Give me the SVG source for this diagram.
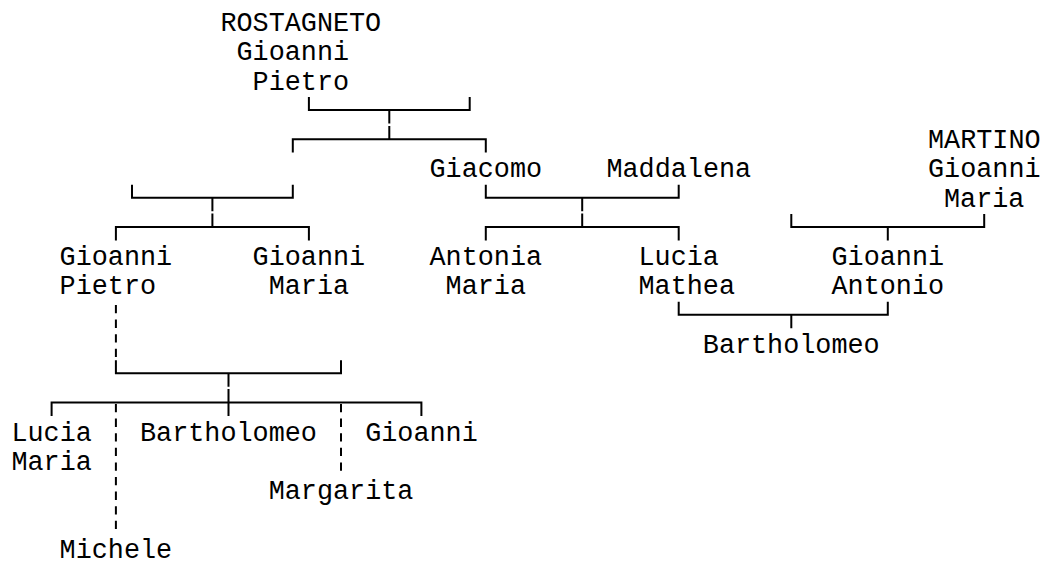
<svg xmlns="http://www.w3.org/2000/svg" width="1042" height="562" viewBox="0 0 1042 562">
  <style>
    .t { font-family: "Liberation Mono", "DejaVu Sans Mono", monospace; font-size: 26.8px; fill: #000; }
    .c { fill: none; stroke: #000; stroke-width: 2; stroke-linecap: butt; stroke-linejoin: miter; }
    .d { fill: none; stroke: #000; stroke-width: 2; stroke-dasharray: 8.3 6.3; }
  </style>
  <rect width="1042" height="562" fill="#fff"/>

  <g id="connectors">
    <path class="c" d="M308.9,97 V110 H469.7 V97 M389.3,110 V123.5"/>
    <path class="c" d="M292.8,152.5 V139.3 H485.8 V152.5 M389.3,139.3 V126"/>
    <path class="c" d="M132,184.8 V197.8 H292.8 V184.8 M212.4,197.8 V211.3"/>
    <path class="c" d="M115.9,240.5 V227 H308.9 V240.5 M212.4,227 V213.5"/>
    <path class="c" d="M485.8,184.8 V197.8 H678.7 V184.8 M582.2,197.8 V211.3"/>
    <path class="c" d="M485.8,240.5 V227 H678.7 V240.5 M582.2,227 V213.5"/>
    <path class="c" d="M791.3,214 V227 H984.2 V214 M887.8,227 V240.5"/>
    <path class="c" d="M678.7,301.8 V314.8 H887.8 V301.8 M791.3,314.8 V328.3"/>
    <path class="c" d="M115.9,360.3 V373.3 H341 V360.3 M228.5,373.3 V386.8"/>
    <path class="c" d="M51.6,416 V402.6 H421.4 V416 M228.5,389 V416"/>
    <path class="d" d="M115.9,305 V358"/>
    <path class="d" d="M115.9,404 V533"/>
    <path class="d" d="M341,404 V473"/>
  </g>

  <g id="rostagneto-gioanni-pietro">
    <text class="t" x="220.4" y="31">ROSTAGNETO</text>
    <text class="t" x="236.5" y="60.25">Gioanni</text>
    <text class="t" x="252.6" y="89.5">Pietro</text>
  </g>
  <g id="martino-gioanni-maria">
    <text class="t" x="928" y="148">MARTINO</text>
    <text class="t" x="928" y="177.25">Gioanni</text>
    <text class="t" x="944" y="206.5">Maria</text>
  </g>
  <g id="giacomo">
    <text class="t" x="429.5" y="177.25">Giacomo</text>
  </g>
  <g id="maddalena">
    <text class="t" x="606.4" y="177.25">Maddalena</text>
  </g>
  <g id="gioanni-pietro">
    <text class="t" x="59.6" y="265">Gioanni</text>
    <text class="t" x="59.6" y="294.25">Pietro</text>
  </g>
  <g id="gioanni-maria">
    <text class="t" x="252.6" y="265">Gioanni</text>
    <text class="t" x="268.7" y="294.25">Maria</text>
  </g>
  <g id="antonia-maria">
    <text class="t" x="429.5" y="265">Antonia</text>
    <text class="t" x="445.6" y="294.25">Maria</text>
  </g>
  <g id="lucia-mathea">
    <text class="t" x="638.5" y="265">Lucia</text>
    <text class="t" x="638.5" y="294.25">Mathea</text>
  </g>
  <g id="gioanni-antonio">
    <text class="t" x="831.5" y="265">Gioanni</text>
    <text class="t" x="831.5" y="294.25">Antonio</text>
  </g>
  <g id="bartholomeo-right">
    <text class="t" x="702.8" y="352.75">Bartholomeo</text>
  </g>
  <g id="lucia-maria">
    <text class="t" x="11.4" y="440.5">Lucia</text>
    <text class="t" x="11.4" y="469.75">Maria</text>
  </g>
  <g id="bartholomeo-left">
    <text class="t" x="140" y="440.5">Bartholomeo</text>
  </g>
  <g id="gioanni">
    <text class="t" x="365.2" y="440.5">Gioanni</text>
  </g>
  <g id="margarita">
    <text class="t" x="268.7" y="499">Margarita</text>
  </g>
  <g id="michele">
    <text class="t" x="59.6" y="557.5">Michele</text>
  </g>
</svg>
